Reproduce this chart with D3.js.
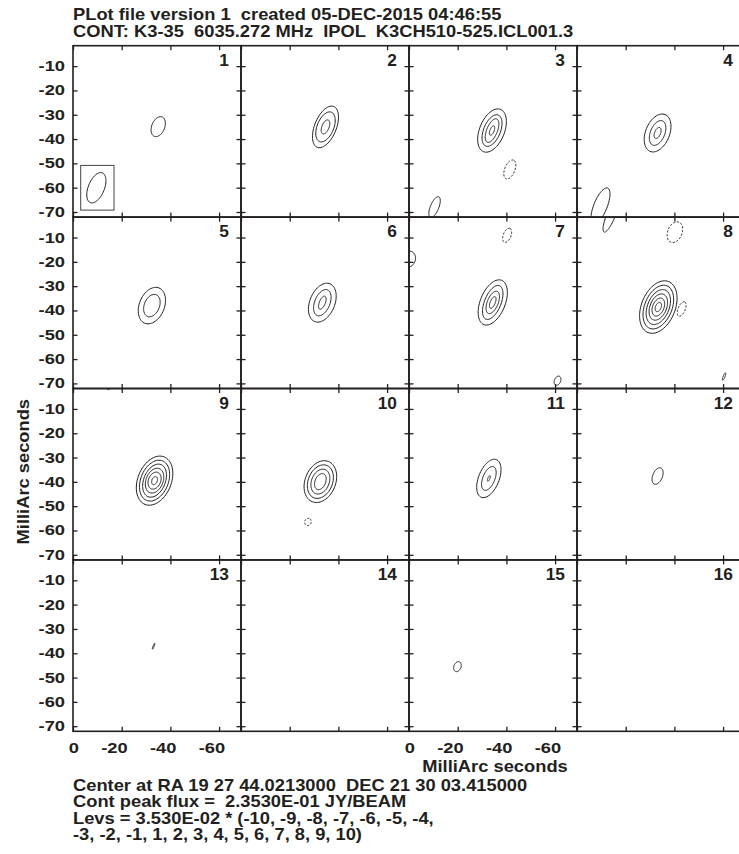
<!DOCTYPE html>
<html>
<head>
<meta charset="utf-8">
<script src="https://cdn.jsdelivr.net/npm/d3@7"></script>
<style>
  body { margin: 0; background: #fff; }
  text { font-family: "Liberation Sans", Arial, sans-serif; font-weight: bold; fill: #231f20; white-space: pre; }
</style>
</head>
<body>
<svg id="chart"></svg>
<script>
// ---- data (milliarcseconds) ----
const channelLabels = ['1', '2', '3', '4', '5', '6', '7', '8', '9', '10', '11', '12', '13', '14', '15', '16'];
const xTickValues = [0, -20, -40, -60];
const yTickValues = [-10, -20, -30, -40, -50, -60, -70];
const xDomain = [0, -69];
const yDomain = [-1.6, -72.1];
// beam: semi-major, semi-minor (mas), tilt (deg)
const beamShape = [6.6, 3.3, 22];

const titleLines = [
  'PLot file version 1  created 05-DEC-2015 04:46:55',
  'CONT: K3-35  6035.272 MHz  IPOL  K3CH510-525.ICL001.3'
];
const footerLines = [
  'Center at RA 19 27 44.0213000  DEC 21 30 03.415000',
  'Cont peak flux =  2.3530E-01 JY/BEAM',
  'Levs = 3.530E-02 * (-10, -9, -8, -7, -6, -5, -4,',
  '-3, -2, -1, 1, 2, 3, 4, 5, 6, 7, 8, 9, 10)'
];
const axisTitle = 'MilliArc seconds';

// contours: [x, y, half x-extent, half y-extent, sign (+1 solid, -1 dashed)]
const ch1 = [[-35.0, -34.9, 2.94, 4.1, 1]];
const ch2 = [[-34.7, -35.0, 5.35, 8.56, 1], [-34.7, -35.0, 4.0, 6.17, 1], [-34.7, -35.0, 1.77, 2.88, 1]];
const ch3 = [[-34.1, -36.5, 5.9, 8.9, 1], [-34.1, -36.5, 4.1, 6.5, 1], [-34.1, -36.5, 2.8, 4.86, 1], [-34.1, -36.5, 1.1, 1.93, 1],
  [-41.4, -52.5, 2.47, 3.9, -1], [-10.5, -68.0, 2.35, 4.3, 1]];
const ch4 = [[-33.1, -37.5, 5.5, 7.8, 1], [-33.1, -37.5, 3.4, 5.1, 1], [-33.1, -37.5, 1.44, 2.26, 1],
  [-9.65, -67.5, 3.9, 7.4, 1]];
const ch5 = [[-32.4, -38.0, 5.6, 7.5, 1], [-32.4, -38.0, 3.4, 4.6, 1]];
const ch6 = [[-33.4, -36.8, 5.7, 8.0, 1], [-33.4, -36.8, 3.6, 5.4, 1], [-33.4, -36.8, 1.56, 2.7, 1]];
const ch7 = [[-34.4, -36.7, 6.0, 9.3, 1], [-34.4, -36.7, 4.2, 7.0, 1], [-34.4, -36.7, 2.76, 4.6, 1], [-34.4, -36.7, 1.36, 2.4, 1],
  [0.2, -18.9, 2.9, 3.3, 1], [-40.3, -9.1, 1.86, 2.9, -1], [-61.0, -68.9, 1.4, 1.9, 1]];
const ch8 = [[-33.4, -38.6, 7.7, 10.8, 1], [-33.4, -38.6, 6.3, 9.0, 1], [-33.4, -38.6, 5.0, 7.2, 1],
  [-33.4, -38.6, 3.8, 5.4, 1], [-33.4, -38.6, 2.6, 3.7, 1], [-33.4, -38.6, 1.3, 1.9, 1],
  [-43.0, -39.4, 1.8, 3.0, -1], [-40.2, -7.8, 3.2, 4.25, -1], [-13.8, -1.2, 3.1, 6.6, 1], [-60.4, -67.2, 0.7, 1.5, 1]];
const ch9 = [[-33.5, -39.5, 7.5, 10.1, 1], [-33.5, -39.5, 6.2, 8.4, 1], [-33.5, -39.5, 4.9, 6.8, 1],
  [-33.5, -39.5, 3.8, 5.1, 1], [-33.5, -39.5, 2.7, 3.5, 1], [-33.5, -39.5, 1.2, 1.65, 1],
  [-14.8, -0.9, 0.8, 1.2, 1]];
const ch10 = [[-32.6, -39.9, 6.7, 8.6, 1], [-32.6, -39.9, 5.35, 6.9, 1], [-32.6, -39.9, 3.9, 5.1, 1], [-32.6, -39.9, 2.4, 3.3, 1],
  [-27.5, -56.5, 1.36, 1.5, -1]];
const ch11 = [[-32.8, -38.6, 5.0, 7.9, 1], [-32.8, -38.6, 3.0, 4.9, 1], [-32.8, -38.6, 0.6, 1.15, 1]];
const ch12 = [[-33.1, -37.6, 2.27, 3.4, 1]];
const ch13 = [[-33.1, -37.1, 0.35, 1.2, 1]];
const ch14 = [];
const ch15 = [[-19.9, -45.5, 1.57, 2.06, 1]];
const ch16 = [];
const contoursByChannel = [ch1, ch2, ch3, ch4, ch5, ch6, ch7, ch8, ch9, ch10, ch11, ch12, ch13, ch14, ch15, ch16];

// ---- layout ----
const width = 739, height = 854;
const marginLeft = 73, marginTop = 45.7, panelW = 168, panelH = 171.4, cols = 4;
const ink = '#231f20';

const svg = d3.select('#chart').attr('width', width).attr('height', height);
svg.append('rect').attr('width', width).attr('height', height).attr('fill', '#fff');

svg.append('defs').append('clipPath').attr('id', 'panel-clip')
  .append('rect').attr('width', panelW).attr('height', panelH);

const x = d3.scaleLinear().domain(xDomain).range([0, panelW]);
const y = d3.scaleLinear().domain(yDomain).range([0, panelH]);

const tilt = beamShape[2] * Math.PI / 180;
const c2 = Math.cos(tilt) ** 2, s2 = Math.sin(tilt) ** 2;

// tilted ellipse axes that give the read x / y extents
function axesFromExtent(rx, ry) {
  const d = c2 * c2 - s2 * s2;
  const a2 = (ry * ry * c2 - rx * rx * s2) / d;
  const b2 = Math.max((rx * rx * c2 - ry * ry * s2) / d, a2 * 0.03);
  return [Math.sqrt(a2), Math.sqrt(b2)];
}

const line = d3.line().curve(d3.curveLinearClosed);
function ellipse(cx, cy, a, b) {
  const n = 72;
  const pts = d3.range(n).map(i => {
    const t = i / n * 2 * Math.PI;
    const dx = -a * Math.cos(t) * Math.sin(tilt) + b * Math.sin(t) * Math.cos(tilt);
    const dy = a * Math.cos(t) * Math.cos(tilt) + b * Math.sin(t) * Math.sin(tilt);
    return [x(cx + dx), y(cy + dy)];
  });
  return line(pts);
}

function label(g, px, py, str, size, stretch, anchor, rotate) {
  g.append('text')
    .attr('transform', `translate(${px},${py})` + (rotate ? ` rotate(${rotate})` : '') + ` scale(${stretch},1)`)
    .attr('text-anchor', anchor)
    .attr('xml:space', 'preserve')
    .style('font-size', size + 'px')
    .text(str);
}

const inner = -4.5;
const axes = [
  [d3.axisTop(x).tickValues(xTickValues), 0, 0],
  [d3.axisBottom(x).tickValues(xTickValues), 0, panelH],
  [d3.axisLeft(y).tickValues(yTickValues), 0, 0],
  [d3.axisRight(y).tickValues(yTickValues), panelW, 0]
];

channelLabels.forEach((lab, i) => {
  const col = i % cols, row = Math.floor(i / cols);
  const g = svg.append('g').attr('transform', `translate(${marginLeft + col * panelW},${marginTop + row * panelH})`);

  // contours
  const cg = g.append('g').attr('clip-path', 'url(#panel-clip)');
  cg.selectAll('path')
    .data(contoursByChannel[i])
    .join('path')
    .attr('d', d => {
      const [a, b] = axesFromExtent(d[2], d[3]);
      return ellipse(d[0], d[1], a, b);
    })
    .attr('fill', 'none')
    .attr('stroke', ink)
    .attr('stroke-width', 1)
    .attr('stroke-dasharray', d => d[4] < 0 ? '2.2,1.6' : null);

  // ticks
  axes.forEach(([ax, tx, ty]) => {
    g.append('g')
      .attr('transform', `translate(${tx},${ty})`)
      .attr('color', ink)
      .call(ax.tickSizeInner(inner).tickSizeOuter(0).tickFormat(''))
      .call(a => a.select('.domain').remove())
      .call(a => a.selectAll('line').attr('stroke-width', 1.3));
  });

  // border
  g.append('rect')
    .attr('width', panelW).attr('height', panelH)
    .attr('fill', 'none').attr('stroke', ink).attr('stroke-width', 1.6);

  // channel number
  label(g, panelW - 12, 20, lab, 16.5, 1.05, 'end');

  if (col === 0) {
    yTickValues.forEach(v => label(g, -8, y(v) + 5, String(v), 15.5, 1.18, 'end'));
  }
  if (row === 3 && (col === 0 || col === 2)) {
    xTickValues.forEach(v => label(g, x(v) + 6, panelH + 22, String(v), 15.5, 1.18, 'end'));
  }

  // beam in first panel
  if (i === 0) {
    const boxW = 33.3, boxH = 44.7, boxX = 7.7, boxY = panelH - 7 - boxH;
    g.append('rect')
      .attr('x', boxX).attr('y', boxY).attr('width', boxW).attr('height', boxH)
      .attr('fill', 'none').attr('stroke', '#444').attr('stroke-width', 1);
    g.append('path')
      .attr('d', ellipse(x.invert(boxX + boxW / 2 - 1), y.invert(boxY + boxH / 2), beamShape[0], beamShape[1]))
      .attr('fill', 'none').attr('stroke', ink).attr('stroke-width', 1);
  }
});

// titles and footer
titleLines.forEach((t, i) => label(svg, marginLeft, 20 + i * 16.5, t, 16.5, 1.11, 'start'));
label(svg, marginLeft + 2.5 * panelW + 2, 772, axisTitle, 16.5, 1.11, 'middle');
label(svg, 28.5, marginTop + 2.5 * panelH - 2.5, axisTitle, 16.5, 1.11, 'middle', -90);
footerLines.forEach((t, i) => label(svg, marginLeft, 790.7 + i * 16.5, t, 16.5, 1.11, 'start'));
</script>
</body>
</html>
